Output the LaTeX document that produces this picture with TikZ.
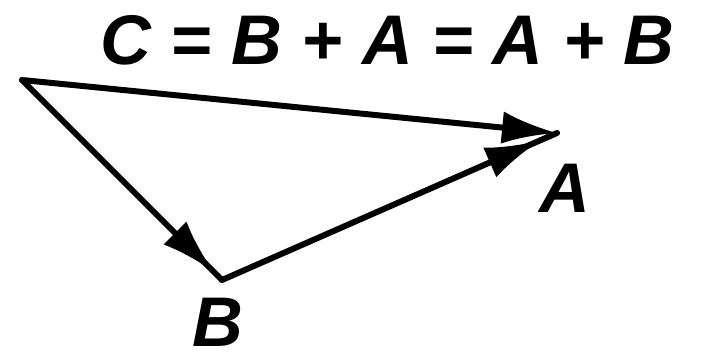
\documentclass[tikz,border=0pt]{standalone}
\usepackage{fontspec}
\setmainfont{Liberation Sans}
\usetikzlibrary{arrows.meta,positioning,decorations.markings}

\begin{document}
\begin{tikzpicture}[
    vec/.style={line width=3.4pt, line cap=round, line join=round},
    tipend/.style={-{Latex[length=1.1cm, width=0.65cm]}},
    tipnear/.style={postaction={decorate}, decoration={markings,
        mark=at position #1 with {\arrow{Latex[length=1.1cm, width=0.65cm]}}}},
    lbl/.style={font=\fontsize{40}{46}\selectfont\bfseries\itshape, inner sep=0pt}
]
    \useasboundingbox (0,0) rectangle (14.04,7.22);

    % vertices
    \coordinate (o) at (0.44,5.62);
    \coordinate (b) at (4.44,1.62);
    \coordinate (a) at (11.14,4.56);

    % vectors
    \draw[vec, tipnear=0.96] (o) -- (b);
    \draw[vec, tipnear=0.95] (b) -- (a);
    \draw[vec, tipend] (o) -- (a);

    % labels
    \node[lbl] (sum) at (7.75,6.42) {C = B + A = A + B};
    \node[lbl] (la) at (11.3,3.45) {A};
    \node[lbl] (lb) at (4.36,0.78) {B};
\end{tikzpicture}
\end{document}
